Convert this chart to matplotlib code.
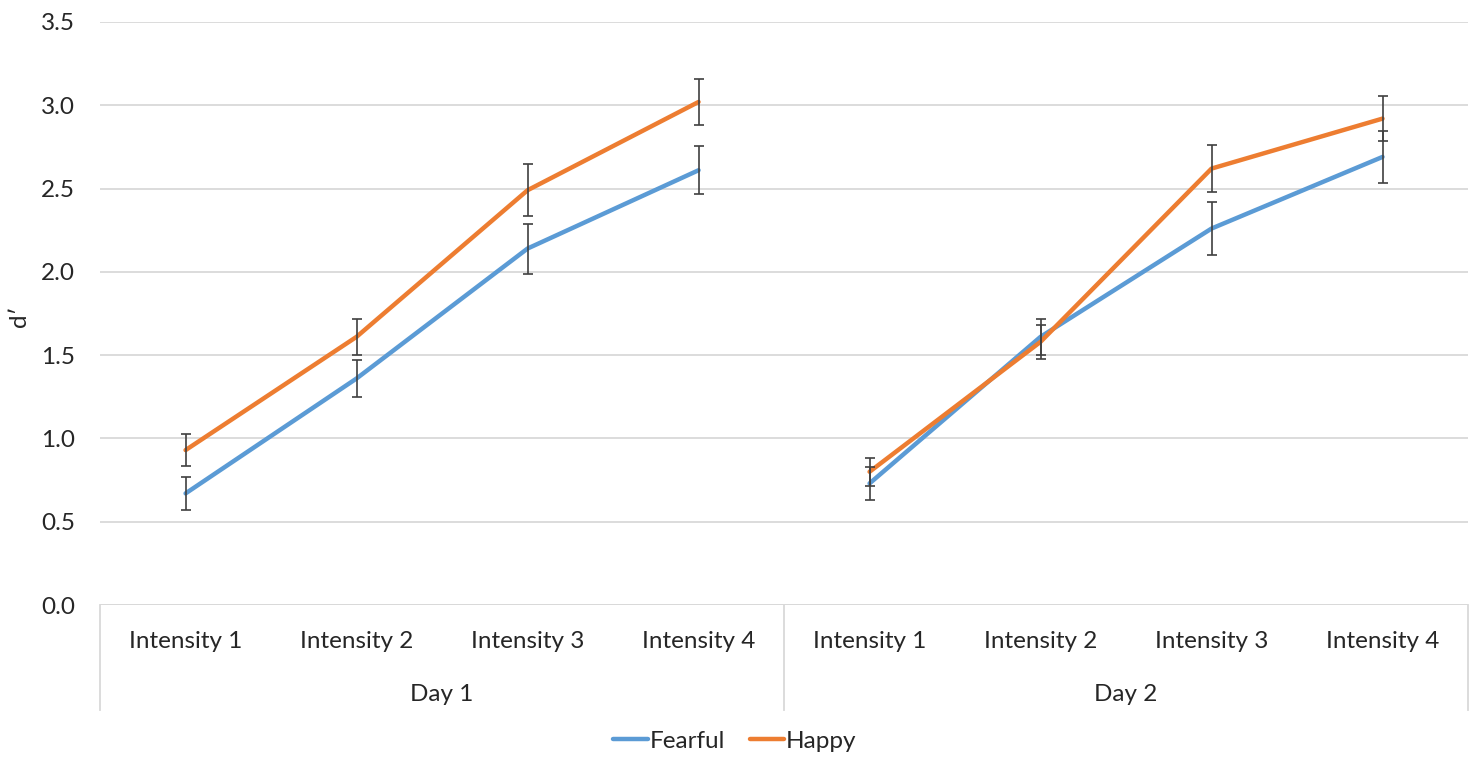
import matplotlib

matplotlib.use("Agg")
import matplotlib.pyplot as plt
import matplotlib.transforms as mtransforms
import numpy as np

days = ["Day 1", "Day 2"]
intensities = ["Intensity 1", "Intensity 2", "Intensity 3", "Intensity 4"]

fearful_day1 = [0.67, 1.36, 2.14, 2.61]
fearful_day2 = [0.73, 1.61, 2.26, 2.69]
happy_day1 = [0.93, 1.61, 2.49, 3.02]
happy_day2 = [0.80, 1.58, 2.62, 2.92]

fearful_err_day1 = [0.10, 0.11, 0.15, 0.145]
fearful_err_day2 = [0.10, 0.108, 0.158, 0.158]
happy_err_day1 = [0.095, 0.108, 0.157, 0.14]
happy_err_day2 = [0.083, 0.103, 0.14, 0.133]

FEAR_COLOR = "#5B9BD5"
HAPPY_COLOR = "#ED7D31"
GRID_COLOR = "#D9D9D9"
TEXT_COLOR = "#262626"
FS = 17.5

plt.rcParams["font.family"] = ["Lato", "DejaVu Sans"]

fig = plt.figure(figsize=(14.76, 7.58), dpi=100)
ax = fig.add_axes([0.0678, 0.2018, 0.9268, 0.7692])

n = len(intensities)
series = [
    ("Fearful", FEAR_COLOR, [fearful_day1, fearful_day2], [fearful_err_day1, fearful_err_day2]),
    ("Happy", HAPPY_COLOR, [happy_day1, happy_day2], [happy_err_day1, happy_err_day2]),
]

for name, color, values, errors in series:
    for d, (vals, errs) in enumerate(zip(values, errors)):
        x = np.arange(n) + d * n
        ax.plot(x, vals, color=color, linewidth=3.2, solid_capstyle="round",
                label=name if d == 0 else None, zorder=3)
        ax.errorbar(x, vals, yerr=errs, fmt="none", ecolor="#404040",
                    elinewidth=1.2, capsize=3.5, capthick=1.2, zorder=4)

ax.set_xlim(-0.5, 2 * n - 0.5)
ax.set_ylim(0, 3.5)
ticks = np.arange(0, 3.51, 0.5)
ax.set_yticks(ticks)
ax.set_yticklabels([f"{v:.1f}" for v in ticks])
ax.yaxis.grid(True, color=GRID_COLOR, linewidth=1.3)
ax.set_axisbelow(True)
for side in ["left", "right", "top", "bottom"]:
    ax.spines[side].set_visible(False)
ax.tick_params(axis="y", length=0, pad=18, labelsize=FS, labelcolor=TEXT_COLOR)
ax.set_xticks([])
ax.axhline(0, color=GRID_COLOR, linewidth=1.3, zorder=1)

# y-axis title sits close to the figure edge
fig.text(0.0135, 0.583, "d′", rotation=90, ha="center", va="center",
         fontsize=FS, color=TEXT_COLOR)

# two-level category axis: intensity labels, then day groups with separators
trans = mtransforms.blended_transform_factory(ax.transData, ax.transAxes)
for d, day in enumerate(days):
    for i, lab in enumerate(intensities):
        ax.text(d * n + i, -0.062, lab, transform=trans, ha="center", va="center",
                fontsize=FS, color=TEXT_COLOR)
    ax.text(d * n + (n - 1) / 2, -0.154, day, transform=trans, ha="center",
            va="center", fontsize=FS, color=TEXT_COLOR)
for xs in [-0.5, n - 0.5, 2 * n - 0.5]:
    ax.plot([xs, xs], [0, -0.18], transform=trans, color=GRID_COLOR,
            linewidth=1.3, clip_on=False)

fig.legend(loc="center", bbox_to_anchor=(0.498, 0.022), ncol=2, frameon=False,
           fontsize=FS, handlelength=1.4, handletextpad=0.1, columnspacing=1.0,
           labelcolor=TEXT_COLOR)

fig.savefig("out.png", dpi=100)
